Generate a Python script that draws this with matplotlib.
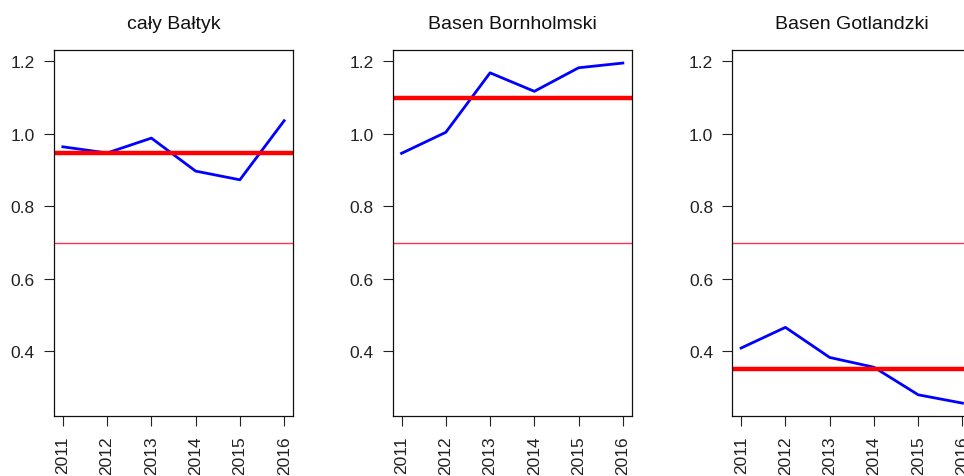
import matplotlib.pyplot as plt

plt.rcParams['font.family'] = ['Liberation Sans', 'DejaVu Sans']

years = [2011, 2012, 2013, 2014, 2015, 2016]
titles = ["cały Bałtyk", "Basen Bornholmski", "Basen Gotlandzki"]
series = [
    [0.964, 0.947, 0.988, 0.897, 0.873, 1.036],
    [0.946, 1.004, 1.168, 1.117, 1.182, 1.195],
    [0.409, 0.466, 0.383, 0.356, 0.280, 0.257],
]
reference = [0.948, 1.098, 0.35]   # thick red line per basin
threshold = 0.70                   # thin red line
yticks = [0.4, 0.6, 0.8, 1.0, 1.2]

fig = plt.figure(figsize=(9.64, 4.77), dpi=100)

lefts = [54, 392.7, 732.3]  # pixel positions of panel left edges
for left, title, vals, ref in zip(lefts, titles, series, reference):
    ax = fig.add_axes([left / 964, 1 - 417 / 477, 239 / 964, 366 / 477])
    ax.plot(years, vals, color='#0000ff', lw=2.0, solid_joinstyle='round')
    ax.axhline(ref, color='#ff0000', lw=3.2)
    ax.axhline(threshold, color='#ff3355', lw=1.0)
    ax.set_xlim(2010.8, 2016.2)
    ax.set_ylim(0.2215, 1.231)
    ax.set_xticks(years)
    ax.set_xticklabels([str(y) for y in years], rotation=90)
    ax.set_yticks(yticks)
    ax.set_yticklabels([f"{t:.1f}" for t in yticks])
    ax.tick_params(direction='out', length=7.2, width=0.8, pad=6.5,
                   labelsize=12.5, colors='#222222')
    for sp in ax.spines.values():
        sp.set_linewidth(0.9)
        sp.set_color('#111111')
    ax.set_title(title, fontsize=14, pad=15.5, color='#111111')

plt.savefig('out.png', dpi=100)
